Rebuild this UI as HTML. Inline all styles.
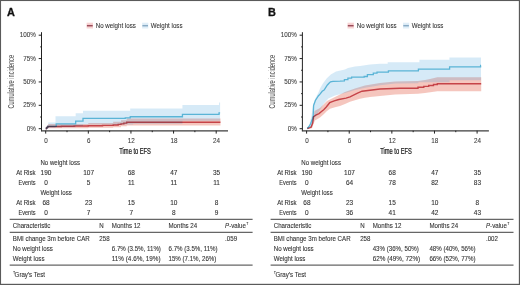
<!DOCTYPE html>
<html><head><meta charset="utf-8"><style>
html,body{margin:0;padding:0;background:#fff;}
body{width:520px;height:285px;overflow:hidden;}
svg{display:block;will-change:transform;font-family:"Liberation Sans",sans-serif;}
.ax line{stroke:#222;stroke-width:1;}
.tl text{fill:#3a3a3a;stroke:#3a3a3a;stroke-width:0.08;}
.ylab{font-size:8.4px;fill:#444;}
.xlab{font-size:8.2px;fill:#222;stroke:#222;stroke-width:0.25;}
.lg{fill:#333;stroke:#333;stroke-width:0.08;}
.rt text{fill:#333;stroke:#333;stroke-width:0.1;}
.tb text{fill:#333;stroke:#333;stroke-width:0.1;}
.tb .hl{stroke:#666;stroke-width:1.15;}
.pl{font-size:10.9px;font-weight:bold;fill:#111;stroke:#111;stroke-width:0.3;}
.rl{fill:none;stroke:rgb(206,86,96);stroke-width:1.4;mix-blend-mode:multiply;}
.bl{fill:none;stroke:#5ab4d6;stroke-width:1.3;}
</style></head>
<body>
<svg width="520" height="285" viewBox="0 0 520 285">
<rect x="0" y="0" width="520" height="285" fill="#fff"/>
<g>
<text class="pl" x="7.1" y="16.1">A</text>
<rect x="86.6" y="22.7" width="6.4" height="5.8" fill="#f8d4d4"/><line x1="86.9" y1="25.7" x2="92.7" y2="25.7" stroke="#9c4c5a" stroke-width="1.5"/><text x="95.80" y="27.80" font-size="6.75" class="lg" textLength="39.99" lengthAdjust="spacingAndGlyphs">No weight loss</text>
<rect x="142.1" y="22.7" width="6.2" height="5.8" fill="#e0eef8"/><line x1="142.4" y1="25.7" x2="148.0" y2="25.7" stroke="#88aac4" stroke-width="1.5"/><text x="150.80" y="27.80" font-size="6.75" class="lg" textLength="31.67" lengthAdjust="spacingAndGlyphs">Weight loss</text>
<path d="M45.70,128.70 L46.41,128.70 L46.41,126.83 L47.12,126.83 L47.12,125.43 L48.19,125.43 L48.19,124.02 L88.32,124.02 L88.32,123.09 L113.19,123.09 L113.19,121.69 L121.00,121.69 L121.00,120.28 L126.69,120.28 L126.69,118.41 L220.46,118.41 L220.46,125.43 L126.69,125.43 L126.69,126.36 L121.00,126.36 L121.00,127.30 L113.19,127.30 L113.19,127.86 L88.32,127.86 L88.32,128.14 L48.19,128.14 L48.19,128.70 L45.70,128.70 Z" fill="rgb(218,44,14)" fill-opacity="0.27"/>
<path d="M45.70,128.70 L46.41,128.70 L46.41,126.83 L47.12,126.83 L47.12,124.96 L48.19,124.96 L48.19,122.53 L55.50,122.53 L55.50,116.26 L75.68,116.26 L75.68,113.27 L83.00,113.27 L83.00,110.65 L130.24,110.65 L130.24,108.41 L182.45,108.41 L182.45,104.95 L219.04,104.95 L219.04,102.52 L220.10,102.52 L220.10,120.85 L219.04,120.85 L219.04,120.85 L182.45,120.85 L182.45,123.84 L133.08,123.84 L133.08,124.40 L83.00,124.40 L83.00,125.89 L75.68,125.89 L75.68,127.20 L55.50,127.20 L55.50,127.95 L48.19,127.95 L48.19,128.70 L45.70,128.70 Z" fill="rgb(50,150,215)" fill-opacity="0.2"/>
<path d="M45.70,128.70 H46.27 V128.14 H46.84 V127.58 H47.40 V127.02 H47.97 V126.46 H56.21 V123.93 H75.68 V121.03 H83.00 V118.32 H125.26 V117.85 H130.24 V116.73 H182.45 V114.39 H219.04 V112.80 H220.10" class="bl"/>
<path d="M45.70,128.70 H46.27 V128.14 H46.84 V127.58 H47.40 V127.02 H47.97 V126.46 H61.33 V126.27 H74.12 V125.99 H88.32 V125.71 H102.53 V125.33 H113.19 V124.96 H118.16 V124.40 H121.00 V123.84 H123.84 V123.09 H126.69 V122.25 H220.46" class="rl"/>
<g class="ax">
<line x1="41.5" y1="32.2" x2="41.5" y2="131.2"/>
<line x1="41" y1="130.9" x2="228" y2="130.9" style="stroke:#3c3c3c;stroke-width:1.3"/>
<line x1="38.7" y1="128.70" x2="41.5" y2="128.70"/>
<line x1="38.7" y1="105.32" x2="41.5" y2="105.32"/>
<line x1="38.7" y1="81.95" x2="41.5" y2="81.95"/>
<line x1="38.7" y1="58.57" x2="41.5" y2="58.57"/>
<line x1="38.7" y1="35.20" x2="41.5" y2="35.20"/>
<line x1="40.2" y1="117.01" x2="41.5" y2="117.01"/>
<line x1="40.2" y1="93.64" x2="41.5" y2="93.64"/>
<line x1="40.2" y1="70.26" x2="41.5" y2="70.26"/>
<line x1="40.2" y1="46.89" x2="41.5" y2="46.89"/>
<line x1="45.70" y1="130.7" x2="45.70" y2="133.6"/>
<line x1="88.32" y1="130.7" x2="88.32" y2="133.6"/>
<line x1="130.95" y1="130.7" x2="130.95" y2="133.6"/>
<line x1="173.57" y1="130.7" x2="173.57" y2="133.6"/>
<line x1="216.20" y1="130.7" x2="216.20" y2="133.6"/>
<line x1="67.01" y1="130.7" x2="67.01" y2="132.2"/>
<line x1="109.64" y1="130.7" x2="109.64" y2="132.2"/>
<line x1="152.26" y1="130.7" x2="152.26" y2="132.2"/>
<line x1="194.88" y1="130.7" x2="194.88" y2="132.2"/>
</g>
<g class="tl">
<text x="35.90" y="130.80" font-size="6.9" text-anchor="end" textLength="9.11" lengthAdjust="spacingAndGlyphs">0%</text>
<text x="35.90" y="107.42" font-size="6.9" text-anchor="end" textLength="12.61" lengthAdjust="spacingAndGlyphs">25%</text>
<text x="35.90" y="84.05" font-size="6.9" text-anchor="end" textLength="12.61" lengthAdjust="spacingAndGlyphs">50%</text>
<text x="35.90" y="60.67" font-size="6.9" text-anchor="end" textLength="12.61" lengthAdjust="spacingAndGlyphs">75%</text>
<text x="35.90" y="37.30" font-size="6.9" text-anchor="end" textLength="16.11" lengthAdjust="spacingAndGlyphs">100%</text>
<text x="46.10" y="142.50" font-size="6.9" text-anchor="middle" textLength="3.50" lengthAdjust="spacingAndGlyphs">0</text>
<text x="88.72" y="142.50" font-size="6.9" text-anchor="middle" textLength="3.50" lengthAdjust="spacingAndGlyphs">6</text>
<text x="131.35" y="142.50" font-size="6.9" text-anchor="middle" textLength="7.01" lengthAdjust="spacingAndGlyphs">12</text>
<text x="173.97" y="142.50" font-size="6.9" text-anchor="middle" textLength="7.01" lengthAdjust="spacingAndGlyphs">18</text>
<text x="216.60" y="142.50" font-size="6.9" text-anchor="middle" textLength="7.01" lengthAdjust="spacingAndGlyphs">24</text>
</g>
<text class="ylab" transform="translate(14.1,81.7) rotate(-90) scale(0.672,1)" text-anchor="middle">Cumulative incidence</text>
<text class="xlab" transform="translate(135.1,154.1) scale(0.7,1)" text-anchor="middle">Time to EFS</text>
<g class="rt">
<text x="40.40" y="164.90" font-size="6.75" textLength="39.67" lengthAdjust="spacingAndGlyphs">No weight loss</text>
<text x="35.60" y="174.70" font-size="6.75" text-anchor="end" textLength="19.32" lengthAdjust="spacingAndGlyphs">At Risk</text>
<text x="35.60" y="184.60" font-size="6.75" text-anchor="end" textLength="17.16" lengthAdjust="spacingAndGlyphs">Events</text>
<text x="40.40" y="194.80" font-size="6.75" textLength="31.42" lengthAdjust="spacingAndGlyphs">Weight loss</text>
<text x="35.60" y="204.70" font-size="6.75" text-anchor="end" textLength="19.32" lengthAdjust="spacingAndGlyphs">At Risk</text>
<text x="35.60" y="214.60" font-size="6.75" text-anchor="end" textLength="17.16" lengthAdjust="spacingAndGlyphs">Events</text>
<text x="46.00" y="174.70" font-size="6.75" text-anchor="middle" textLength="10.85" lengthAdjust="spacingAndGlyphs">190</text>
<text x="46.00" y="184.60" font-size="6.75" text-anchor="middle" textLength="3.62" lengthAdjust="spacingAndGlyphs">0</text>
<text x="46.00" y="204.70" font-size="6.75" text-anchor="middle" textLength="7.23" lengthAdjust="spacingAndGlyphs">68</text>
<text x="46.00" y="214.60" font-size="6.75" text-anchor="middle" textLength="3.62" lengthAdjust="spacingAndGlyphs">0</text>
<text x="88.62" y="174.70" font-size="6.75" text-anchor="middle" textLength="10.85" lengthAdjust="spacingAndGlyphs">107</text>
<text x="88.62" y="184.60" font-size="6.75" text-anchor="middle" textLength="3.62" lengthAdjust="spacingAndGlyphs">5</text>
<text x="88.62" y="204.70" font-size="6.75" text-anchor="middle" textLength="7.23" lengthAdjust="spacingAndGlyphs">23</text>
<text x="88.62" y="214.60" font-size="6.75" text-anchor="middle" textLength="3.62" lengthAdjust="spacingAndGlyphs">7</text>
<text x="131.25" y="174.70" font-size="6.75" text-anchor="middle" textLength="7.23" lengthAdjust="spacingAndGlyphs">68</text>
<text x="131.25" y="184.60" font-size="6.75" text-anchor="middle" textLength="6.75" lengthAdjust="spacingAndGlyphs">11</text>
<text x="131.25" y="204.70" font-size="6.75" text-anchor="middle" textLength="7.23" lengthAdjust="spacingAndGlyphs">15</text>
<text x="131.25" y="214.60" font-size="6.75" text-anchor="middle" textLength="3.62" lengthAdjust="spacingAndGlyphs">7</text>
<text x="173.87" y="174.70" font-size="6.75" text-anchor="middle" textLength="7.23" lengthAdjust="spacingAndGlyphs">47</text>
<text x="173.87" y="184.60" font-size="6.75" text-anchor="middle" textLength="6.75" lengthAdjust="spacingAndGlyphs">11</text>
<text x="173.87" y="204.70" font-size="6.75" text-anchor="middle" textLength="7.23" lengthAdjust="spacingAndGlyphs">10</text>
<text x="173.87" y="214.60" font-size="6.75" text-anchor="middle" textLength="3.62" lengthAdjust="spacingAndGlyphs">8</text>
<text x="216.50" y="174.70" font-size="6.75" text-anchor="middle" textLength="7.23" lengthAdjust="spacingAndGlyphs">35</text>
<text x="216.50" y="184.60" font-size="6.75" text-anchor="middle" textLength="6.75" lengthAdjust="spacingAndGlyphs">11</text>
<text x="216.50" y="204.70" font-size="6.75" text-anchor="middle" textLength="3.62" lengthAdjust="spacingAndGlyphs">8</text>
<text x="216.50" y="214.60" font-size="6.75" text-anchor="middle" textLength="3.62" lengthAdjust="spacingAndGlyphs">9</text>
</g>
<g class="tb">
<line class="hl" x1="9.7" y1="219.4" x2="252.6" y2="219.4"/>
<line class="hl" x1="9.7" y1="232.3" x2="252.6" y2="232.3"/>
<line class="hl" x1="9.7" y1="265.1" x2="252.6" y2="265.1"/>
<text x="12.80" y="227.80" font-size="6.75" textLength="37.59" lengthAdjust="spacingAndGlyphs">Characteristic</text>
<text x="99.30" y="227.80" font-size="6.75" textLength="4.44" lengthAdjust="spacingAndGlyphs">N</text>
<text x="111.80" y="227.80" font-size="6.75" textLength="28.72" lengthAdjust="spacingAndGlyphs">Months 12</text>
<text x="168.50" y="227.80" font-size="6.75" textLength="28.72" lengthAdjust="spacingAndGlyphs">Months 24</text>
<text x="225.1" y="227.8" font-size="6.75" textLength="20.85" lengthAdjust="spacingAndGlyphs"><tspan font-style="italic">P</tspan>-value</text>
<text x="246.25" y="225.0" font-size="4">†</text>
<text x="12.80" y="240.90" font-size="6.75" textLength="76.91" lengthAdjust="spacingAndGlyphs">BMI change 3m before CAR</text>
<text x="99.30" y="240.90" font-size="6.75" textLength="10.26" lengthAdjust="spacingAndGlyphs">258</text>
<text x="225.10" y="240.90" font-size="6.75" textLength="11.97" lengthAdjust="spacingAndGlyphs">.059</text>
<text x="12.80" y="250.50" font-size="6.75" textLength="39.99" lengthAdjust="spacingAndGlyphs">No weight loss</text>
<text x="111.80" y="250.50" font-size="6.75" textLength="49.11" lengthAdjust="spacingAndGlyphs">6.7% (3.5%, 11%)</text>
<text x="168.50" y="250.50" font-size="6.75" textLength="49.11" lengthAdjust="spacingAndGlyphs">6.7% (3.5%, 11%)</text>
<text x="12.80" y="260.80" font-size="6.75" textLength="31.67" lengthAdjust="spacingAndGlyphs">Weight loss</text>
<text x="111.80" y="260.80" font-size="6.75" textLength="48.82" lengthAdjust="spacingAndGlyphs">11% (4.6%, 19%)</text>
<text x="168.50" y="260.80" font-size="6.75" textLength="47.86" lengthAdjust="spacingAndGlyphs">15% (7.1%, 26%)</text>
<text x="12.9" y="273.8" font-size="4">†</text>
<text x="14.60" y="276.60" font-size="6.75" textLength="30.45" lengthAdjust="spacingAndGlyphs">Gray&#39;s Test</text>
</g>

</g>
<g transform="translate(260.9,0)">
<text class="pl" x="7.1" y="16.1">B</text>
<rect x="86.6" y="22.7" width="6.4" height="5.8" fill="#f8d4d4"/><line x1="86.9" y1="25.7" x2="92.7" y2="25.7" stroke="#9c4c5a" stroke-width="1.5"/><text x="95.80" y="27.80" font-size="6.75" class="lg" textLength="39.99" lengthAdjust="spacingAndGlyphs">No weight loss</text>
<rect x="142.1" y="22.7" width="6.2" height="5.8" fill="#e0eef8"/><line x1="142.4" y1="25.7" x2="148.0" y2="25.7" stroke="#88aac4" stroke-width="1.5"/><text x="150.80" y="27.80" font-size="6.75" class="lg" textLength="31.67" lengthAdjust="spacingAndGlyphs">Weight loss</text>
<path d="M46.60,128.50 L50.10,126.00 L52.30,118.00 L53.60,111.00 L59.10,108.00 L66.10,101.00 L74.10,97.00 L79.10,94.50 L84.10,92.00 L94.10,88.50 L104.10,85.50 L119.10,83.00 L134.10,81.50 L157.10,81.10 L164.10,80.00 L169.10,79.00 L176.40,77.30 L220.30,77.30 L220.30,91.30 L176.40,91.30 L164.10,93.00 L157.10,93.80 L134.10,94.50 L119.10,96.00 L109.10,97.10 L104.10,97.80 L99.10,98.70 L94.10,100.20 L89.10,101.80 L84.10,104.00 L79.10,106.00 L74.10,107.30 L69.10,108.70 L66.10,111.00 L63.10,114.00 L59.10,117.50 L54.10,120.50 L52.60,124.00 L51.10,128.30 L46.60,128.50 Z" fill="rgb(218,44,14)" fill-opacity="0.27"/>
<path d="M46.60,128.50 L48.60,124.00 L50.60,116.00 L52.00,106.00 L54.10,99.00 L57.30,93.00 L59.40,88.00 L62.00,83.50 L65.70,78.50 L69.90,74.50 L75.10,71.40 L84.10,69.40 L87.10,68.00 L94.10,66.60 L99.10,66.00 L109.10,64.60 L119.10,63.80 L126.80,63.80 L126.80,62.30 L158.50,62.30 L158.50,59.80 L188.50,59.80 L188.50,57.40 L220.10,57.40 L220.10,80.20 L188.70,80.20 L188.70,82.30 L157.50,82.30 L157.50,83.20 L134.10,83.60 L119.10,85.30 L104.10,87.80 L94.10,90.00 L84.10,93.00 L74.10,95.50 L67.50,98.50 L62.60,104.00 L59.10,110.00 L56.10,114.00 L52.40,121.00 L50.10,127.00 L46.60,128.50 Z" fill="rgb(50,150,215)" fill-opacity="0.2"/>
<path d="M46.40,128.50 L48.10,126.50 L49.60,124.00 L50.60,121.50 L51.70,118.50 L52.30,116.00 L52.70,105.50 L54.50,100.50 L57.40,96.00 L59.10,94.20 L61.30,91.30 L63.20,90.00 L64.60,87.90 L66.50,85.00 L68.10,83.20 L69.60,81.80 L72.10,81.40 L79.10,81.20 L83.50,80.80 L83.50,79.60 L87.00,79.60 L87.00,78.20 L90.70,78.20 L90.70,77.10 L103.30,77.10 L103.30,76.50 L106.50,76.50 L106.50,74.60 L112.40,74.60 L112.40,73.20 L116.10,73.20 L116.10,72.20 L127.50,72.20 L127.50,70.80 L157.50,70.80 L157.50,69.10 L188.70,69.10 L188.70,66.80 L219.70,66.80 L219.70,65.40 L220.10,65.40" class="bl"/>
<path d="M46.40,128.50 L48.60,127.80 L50.20,127.20 L51.80,123.10 L52.60,116.80 L54.90,115.20 L58.10,113.60 L60.60,111.50 L62.80,109.70 L65.60,106.80 L68.80,102.70 L73.30,100.90 L77.90,99.50 L85.10,98.10 L89.10,96.80 L96.10,93.30 L101.10,91.20 L109.10,90.20 L119.10,89.00 L139.10,88.30 L157.10,88.30 L157.10,87.20 L162.90,87.20 L162.90,86.40 L167.80,86.40 L167.80,85.50 L172.60,85.50 L172.60,84.50 L176.40,84.50 L176.40,83.70 L220.30,83.70" class="rl"/>
<g class="ax">
<line x1="41.5" y1="32.2" x2="41.5" y2="131.2"/>
<line x1="41" y1="130.9" x2="228" y2="130.9" style="stroke:#3c3c3c;stroke-width:1.3"/>
<line x1="38.7" y1="128.70" x2="41.5" y2="128.70"/>
<line x1="38.7" y1="105.32" x2="41.5" y2="105.32"/>
<line x1="38.7" y1="81.95" x2="41.5" y2="81.95"/>
<line x1="38.7" y1="58.57" x2="41.5" y2="58.57"/>
<line x1="38.7" y1="35.20" x2="41.5" y2="35.20"/>
<line x1="40.2" y1="117.01" x2="41.5" y2="117.01"/>
<line x1="40.2" y1="93.64" x2="41.5" y2="93.64"/>
<line x1="40.2" y1="70.26" x2="41.5" y2="70.26"/>
<line x1="40.2" y1="46.89" x2="41.5" y2="46.89"/>
<line x1="45.70" y1="130.7" x2="45.70" y2="133.6"/>
<line x1="88.32" y1="130.7" x2="88.32" y2="133.6"/>
<line x1="130.95" y1="130.7" x2="130.95" y2="133.6"/>
<line x1="173.57" y1="130.7" x2="173.57" y2="133.6"/>
<line x1="216.20" y1="130.7" x2="216.20" y2="133.6"/>
<line x1="67.01" y1="130.7" x2="67.01" y2="132.2"/>
<line x1="109.64" y1="130.7" x2="109.64" y2="132.2"/>
<line x1="152.26" y1="130.7" x2="152.26" y2="132.2"/>
<line x1="194.88" y1="130.7" x2="194.88" y2="132.2"/>
</g>
<g class="tl">
<text x="35.90" y="130.80" font-size="6.9" text-anchor="end" textLength="9.11" lengthAdjust="spacingAndGlyphs">0%</text>
<text x="35.90" y="107.42" font-size="6.9" text-anchor="end" textLength="12.61" lengthAdjust="spacingAndGlyphs">25%</text>
<text x="35.90" y="84.05" font-size="6.9" text-anchor="end" textLength="12.61" lengthAdjust="spacingAndGlyphs">50%</text>
<text x="35.90" y="60.67" font-size="6.9" text-anchor="end" textLength="12.61" lengthAdjust="spacingAndGlyphs">75%</text>
<text x="35.90" y="37.30" font-size="6.9" text-anchor="end" textLength="16.11" lengthAdjust="spacingAndGlyphs">100%</text>
<text x="46.10" y="142.50" font-size="6.9" text-anchor="middle" textLength="3.50" lengthAdjust="spacingAndGlyphs">0</text>
<text x="88.72" y="142.50" font-size="6.9" text-anchor="middle" textLength="3.50" lengthAdjust="spacingAndGlyphs">6</text>
<text x="131.35" y="142.50" font-size="6.9" text-anchor="middle" textLength="7.01" lengthAdjust="spacingAndGlyphs">12</text>
<text x="173.97" y="142.50" font-size="6.9" text-anchor="middle" textLength="7.01" lengthAdjust="spacingAndGlyphs">18</text>
<text x="216.60" y="142.50" font-size="6.9" text-anchor="middle" textLength="7.01" lengthAdjust="spacingAndGlyphs">24</text>
</g>
<text class="ylab" transform="translate(14.1,81.7) rotate(-90) scale(0.672,1)" text-anchor="middle">Cumulative incidence</text>
<text class="xlab" transform="translate(135.1,154.1) scale(0.7,1)" text-anchor="middle">Time to EFS</text>
<g class="rt">
<text x="40.40" y="164.90" font-size="6.75" textLength="39.67" lengthAdjust="spacingAndGlyphs">No weight loss</text>
<text x="35.60" y="174.70" font-size="6.75" text-anchor="end" textLength="19.32" lengthAdjust="spacingAndGlyphs">At Risk</text>
<text x="35.60" y="184.60" font-size="6.75" text-anchor="end" textLength="17.16" lengthAdjust="spacingAndGlyphs">Events</text>
<text x="40.40" y="194.80" font-size="6.75" textLength="31.42" lengthAdjust="spacingAndGlyphs">Weight loss</text>
<text x="35.60" y="204.70" font-size="6.75" text-anchor="end" textLength="19.32" lengthAdjust="spacingAndGlyphs">At Risk</text>
<text x="35.60" y="214.60" font-size="6.75" text-anchor="end" textLength="17.16" lengthAdjust="spacingAndGlyphs">Events</text>
<text x="46.00" y="174.70" font-size="6.75" text-anchor="middle" textLength="10.85" lengthAdjust="spacingAndGlyphs">190</text>
<text x="46.00" y="184.60" font-size="6.75" text-anchor="middle" textLength="3.62" lengthAdjust="spacingAndGlyphs">0</text>
<text x="46.00" y="204.70" font-size="6.75" text-anchor="middle" textLength="7.23" lengthAdjust="spacingAndGlyphs">68</text>
<text x="46.00" y="214.60" font-size="6.75" text-anchor="middle" textLength="3.62" lengthAdjust="spacingAndGlyphs">0</text>
<text x="88.62" y="174.70" font-size="6.75" text-anchor="middle" textLength="10.85" lengthAdjust="spacingAndGlyphs">107</text>
<text x="88.62" y="184.60" font-size="6.75" text-anchor="middle" textLength="7.23" lengthAdjust="spacingAndGlyphs">64</text>
<text x="88.62" y="204.70" font-size="6.75" text-anchor="middle" textLength="7.23" lengthAdjust="spacingAndGlyphs">23</text>
<text x="88.62" y="214.60" font-size="6.75" text-anchor="middle" textLength="7.23" lengthAdjust="spacingAndGlyphs">36</text>
<text x="131.25" y="174.70" font-size="6.75" text-anchor="middle" textLength="7.23" lengthAdjust="spacingAndGlyphs">68</text>
<text x="131.25" y="184.60" font-size="6.75" text-anchor="middle" textLength="7.23" lengthAdjust="spacingAndGlyphs">78</text>
<text x="131.25" y="204.70" font-size="6.75" text-anchor="middle" textLength="7.23" lengthAdjust="spacingAndGlyphs">15</text>
<text x="131.25" y="214.60" font-size="6.75" text-anchor="middle" textLength="7.23" lengthAdjust="spacingAndGlyphs">41</text>
<text x="173.87" y="174.70" font-size="6.75" text-anchor="middle" textLength="7.23" lengthAdjust="spacingAndGlyphs">47</text>
<text x="173.87" y="184.60" font-size="6.75" text-anchor="middle" textLength="7.23" lengthAdjust="spacingAndGlyphs">82</text>
<text x="173.87" y="204.70" font-size="6.75" text-anchor="middle" textLength="7.23" lengthAdjust="spacingAndGlyphs">10</text>
<text x="173.87" y="214.60" font-size="6.75" text-anchor="middle" textLength="7.23" lengthAdjust="spacingAndGlyphs">42</text>
<text x="216.50" y="174.70" font-size="6.75" text-anchor="middle" textLength="7.23" lengthAdjust="spacingAndGlyphs">35</text>
<text x="216.50" y="184.60" font-size="6.75" text-anchor="middle" textLength="7.23" lengthAdjust="spacingAndGlyphs">83</text>
<text x="216.50" y="204.70" font-size="6.75" text-anchor="middle" textLength="3.62" lengthAdjust="spacingAndGlyphs">8</text>
<text x="216.50" y="214.60" font-size="6.75" text-anchor="middle" textLength="7.23" lengthAdjust="spacingAndGlyphs">43</text>
</g>
<g class="tb">
<line class="hl" x1="9.7" y1="219.4" x2="252.6" y2="219.4"/>
<line class="hl" x1="9.7" y1="232.3" x2="252.6" y2="232.3"/>
<line class="hl" x1="9.7" y1="265.1" x2="252.6" y2="265.1"/>
<text x="12.80" y="227.80" font-size="6.75" textLength="37.59" lengthAdjust="spacingAndGlyphs">Characteristic</text>
<text x="99.30" y="227.80" font-size="6.75" textLength="4.44" lengthAdjust="spacingAndGlyphs">N</text>
<text x="111.80" y="227.80" font-size="6.75" textLength="28.72" lengthAdjust="spacingAndGlyphs">Months 12</text>
<text x="168.50" y="227.80" font-size="6.75" textLength="28.72" lengthAdjust="spacingAndGlyphs">Months 24</text>
<text x="225.1" y="227.8" font-size="6.75" textLength="20.85" lengthAdjust="spacingAndGlyphs"><tspan font-style="italic">P</tspan>-value</text>
<text x="246.25" y="225.0" font-size="4">†</text>
<text x="12.80" y="240.90" font-size="6.75" textLength="76.91" lengthAdjust="spacingAndGlyphs">BMI change 3m before CAR</text>
<text x="99.30" y="240.90" font-size="6.75" textLength="10.26" lengthAdjust="spacingAndGlyphs">258</text>
<text x="225.10" y="240.90" font-size="6.75" textLength="11.97" lengthAdjust="spacingAndGlyphs">.002</text>
<text x="12.80" y="250.50" font-size="6.75" textLength="39.99" lengthAdjust="spacingAndGlyphs">No weight loss</text>
<text x="111.80" y="250.50" font-size="6.75" textLength="46.15" lengthAdjust="spacingAndGlyphs">43% (36%, 50%)</text>
<text x="168.50" y="250.50" font-size="6.75" textLength="46.15" lengthAdjust="spacingAndGlyphs">48% (40%, 56%)</text>
<text x="12.80" y="260.80" font-size="6.75" textLength="31.67" lengthAdjust="spacingAndGlyphs">Weight loss</text>
<text x="111.80" y="260.80" font-size="6.75" textLength="47.53" lengthAdjust="spacingAndGlyphs">62% (49%, 72%)</text>
<text x="168.50" y="260.80" font-size="6.75" textLength="46.15" lengthAdjust="spacingAndGlyphs">66% (52%, 77%)</text>
<text x="12.9" y="273.8" font-size="4">†</text>
<text x="14.60" y="276.60" font-size="6.75" textLength="30.45" lengthAdjust="spacingAndGlyphs">Gray&#39;s Test</text>
</g>

</g>
<rect x="0" y="0" width="520" height="1.05" fill="#5a5a5a"/>
<rect x="0" y="0" width="1.05" height="285" fill="#5a5a5a"/>
<rect x="518.85" y="0" width="1.15" height="285" fill="#5a5a5a"/>
<rect x="0" y="283.8" width="520" height="1.2" fill="#5a5a5a"/>
</svg>
</body></html>
